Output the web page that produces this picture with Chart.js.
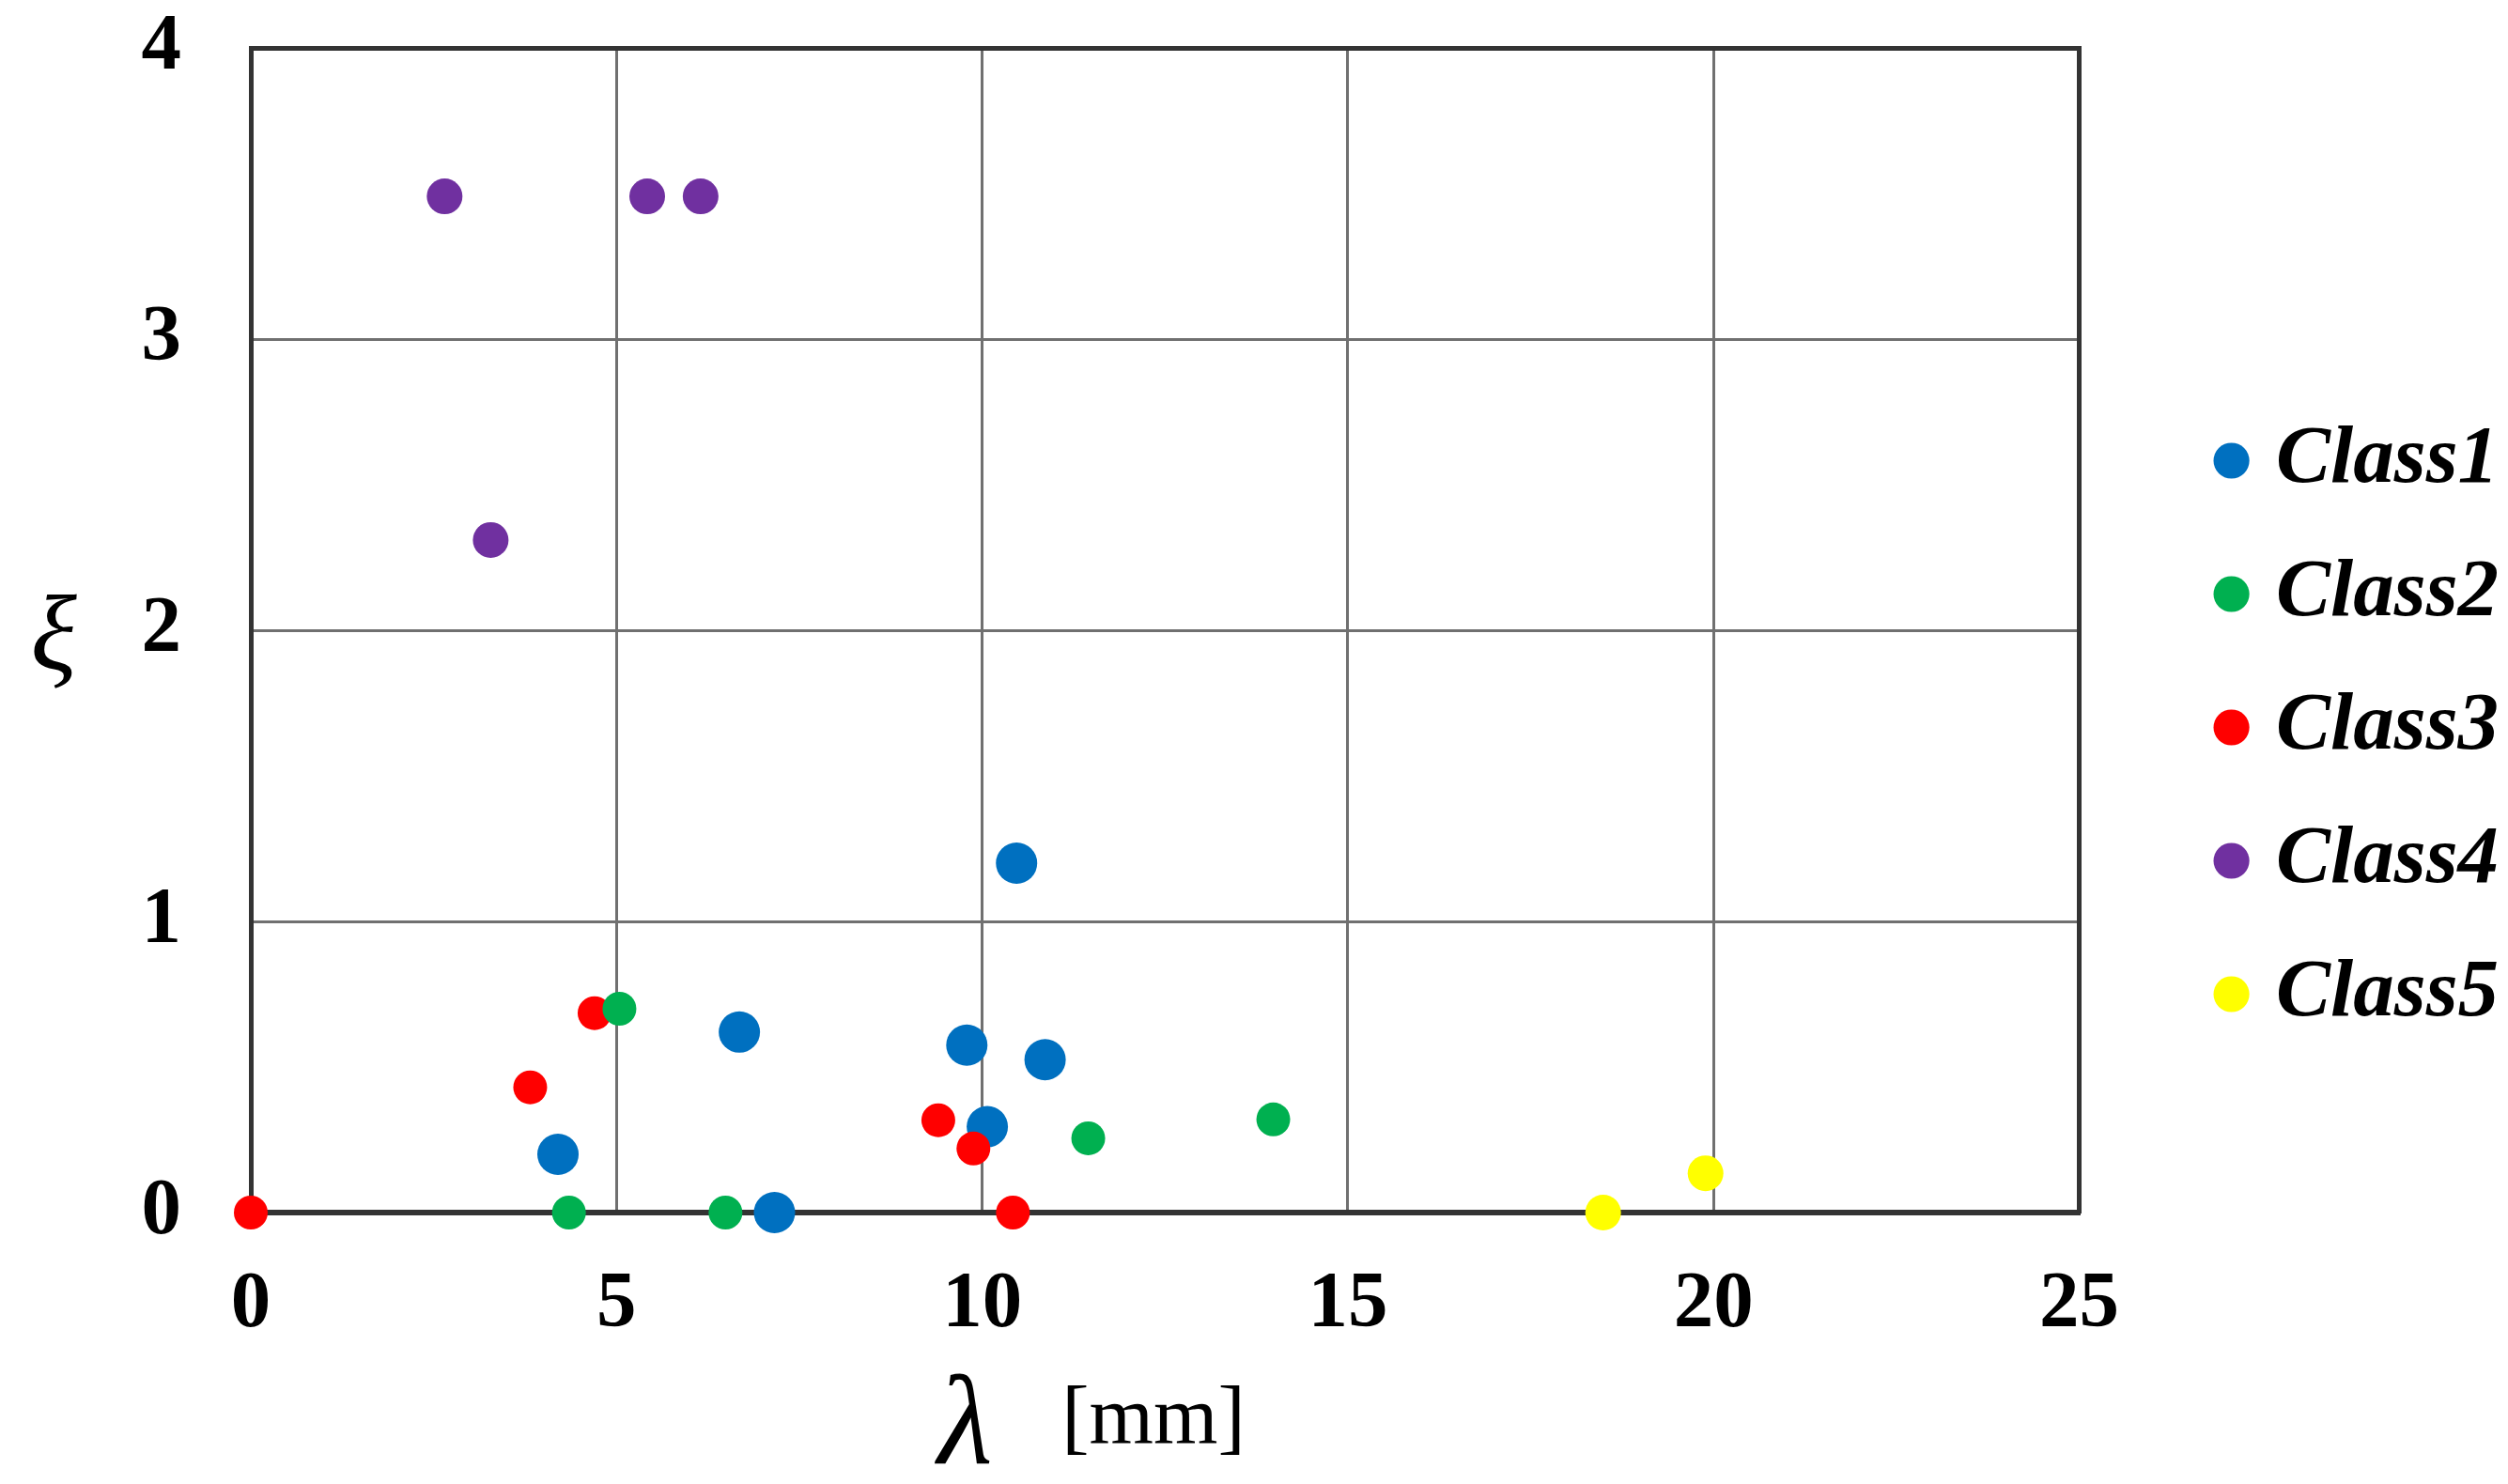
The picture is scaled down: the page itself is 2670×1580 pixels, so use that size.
<!DOCTYPE html>
<html>
<head>
<meta charset="utf-8">
<script src="https://cdn.jsdelivr.net/npm/chart.js@4.4.1/dist/chart.umd.min.js"></script>
<style>
  html, body { margin: 0; padding: 0; background: #fff; }
</style>
</head>
<body>
<canvas id="scatter" width="2670" height="1580"></canvas>
<script>
const classNames = ["Class1", "Class2", "Class3", "Class4", "Class5"];
const classColors = ["#0070C0", "#00B050", "#FF0000", "#7030A0", "#FFFF00"];

// λ [mm] and ξ
const class1X = [4.2, 6.68, 7.16, 9.79, 10.07, 10.47, 10.86];
const class1Y = [0.2, 0.62, 0, 0.575, 0.295, 1.2, 0.525];
const class2X = [4.35, 5.04, 6.49, 11.45, 13.98];
const class2Y = [0, 0.7, 0, 0.255, 0.32];
const class3X = [0, 3.82, 4.7, 9.4, 9.88, 10.42];
const class3Y = [0, 0.43, 0.685, 0.317, 0.22, 0];
const class4X = [2.65, 3.28, 5.42, 6.15];
const class4Y = [3.49, 2.31, 3.49, 3.49];
const class5X = [18.49, 19.89];
const class5Y = [0, 0.135];

const xTicks = [0, 5, 10, 15, 20, 25];
const yTicks = [0, 1, 2, 3, 4];

const allX = [class1X, class2X, class3X, class4X, class5X];
const allY = [class1Y, class2Y, class3Y, class4Y, class5Y];
const pointSizes = [22, 18, 18, 19, 19];
const drawOrder = [3, 1, 2, 4, 5]; // green over red over blue

const serif = "'Liberation Serif', 'Times New Roman', serif";

const datasets = classNames.map((name, i) => ({
  label: name,
  data: allX[i].map((x, j) => ({ x: x, y: allY[i][j] })),
  backgroundColor: classColors[i],
  borderColor: classColors[i],
  borderWidth: 0,
  pointRadius: pointSizes[i],
  pointStyle: "circle",
  order: drawOrder[i],
  clip: false
}));

// axis titles: λ italic + [mm] upright, ξ upright on the left
const axisTitles = {
  id: "axisTitles",
  afterDraw(chart) {
    const { ctx, chartArea } = chart;
    const cx = (chartArea.left + chartArea.right) / 2;
    const cy = (chartArea.top + chartArea.bottom) / 2;
    ctx.save();
    ctx.fillStyle = "#000";
    ctx.textBaseline = "alphabetic";
    ctx.textAlign = "left";
    ctx.font = "italic 135px " + serif;
    ctx.fillText("λ", cx - 242, chartArea.bottom + 267);
    ctx.font = "88px " + serif;
    ctx.fillText("[mm]", cx - 110, chartArea.bottom + 246);
    ctx.textAlign = "center";
    ctx.textBaseline = "middle";
    ctx.font = "italic 115px " + serif;
    ctx.fillText("ξ", chartArea.left - 210, cy + 12);
    ctx.restore();
  }
};

const ctx = document.getElementById("scatter").getContext("2d");
new Chart(ctx, {
  type: "scatter",
  data: { datasets: datasets },
  plugins: [axisTitles],
  options: {
    responsive: false,
    animation: false,
    devicePixelRatio: 1,
    layout: { autoPadding: false, padding: { top: 51, bottom: 82, left: 0, right: 0 } },
    plugins: {
      tooltip: { enabled: false },
      legend: {
        position: "right",
        align: "center",
        labels: {
          usePointStyle: true,
          boxWidth: 8,
          boxHeight: 27,
          padding: 55,
          color: "#000",
          sort: (a, b) => a.datasetIndex - b.datasetIndex,
          font: { family: serif, size: 87, weight: "bold", style: "italic" }
        }
      }
    },
    scales: {
      x: {
        type: "linear",
        position: "bottom",
        min: xTicks[0],
        max: xTicks[xTicks.length - 1],
        ticks: {
          stepSize: xTicks[1] - xTicks[0],
          color: "#000",
          padding: 48,
          font: { family: serif, size: 85, weight: "bold" }
        },
        grid: { color: "#707070", lineWidth: 3, drawTicks: false },
        border: { color: "#333", width: 6 },
        afterFit: (scale) => { scale.height = 207; }
      },
      y: {
        type: "linear",
        position: "left",
        min: yTicks[0],
        max: yTicks[yTicks.length - 1],
        ticks: {
          stepSize: yTicks[1] - yTicks[0],
          color: "#000",
          padding: 74,
          font: { family: serif, size: 85, weight: "bold" }
        },
        grid: {
          color: (c) => (c.tick && c.tick.value === yTicks[yTicks.length - 1] ? "#333" : "#707070"),
          lineWidth: (c) => (c.tick && c.tick.value === yTicks[yTicks.length - 1] ? 5 : 3),
          drawTicks: false
        },
        border: { color: "#333", width: 5 },
        afterFit: (scale) => {
          scale.width = 267;
          scale.paddingTop = 0;
          scale.paddingBottom = 0;
        }
      },
      frameRight: {
        type: "linear",
        position: "right",
        display: true,
        ticks: { display: false },
        grid: { display: false, drawTicks: false },
        border: { color: "#333", width: 5 },
        afterFit: (scale) => { scale.width = 103; }
      }
    }
  }
});
</script>
</body>
</html>
